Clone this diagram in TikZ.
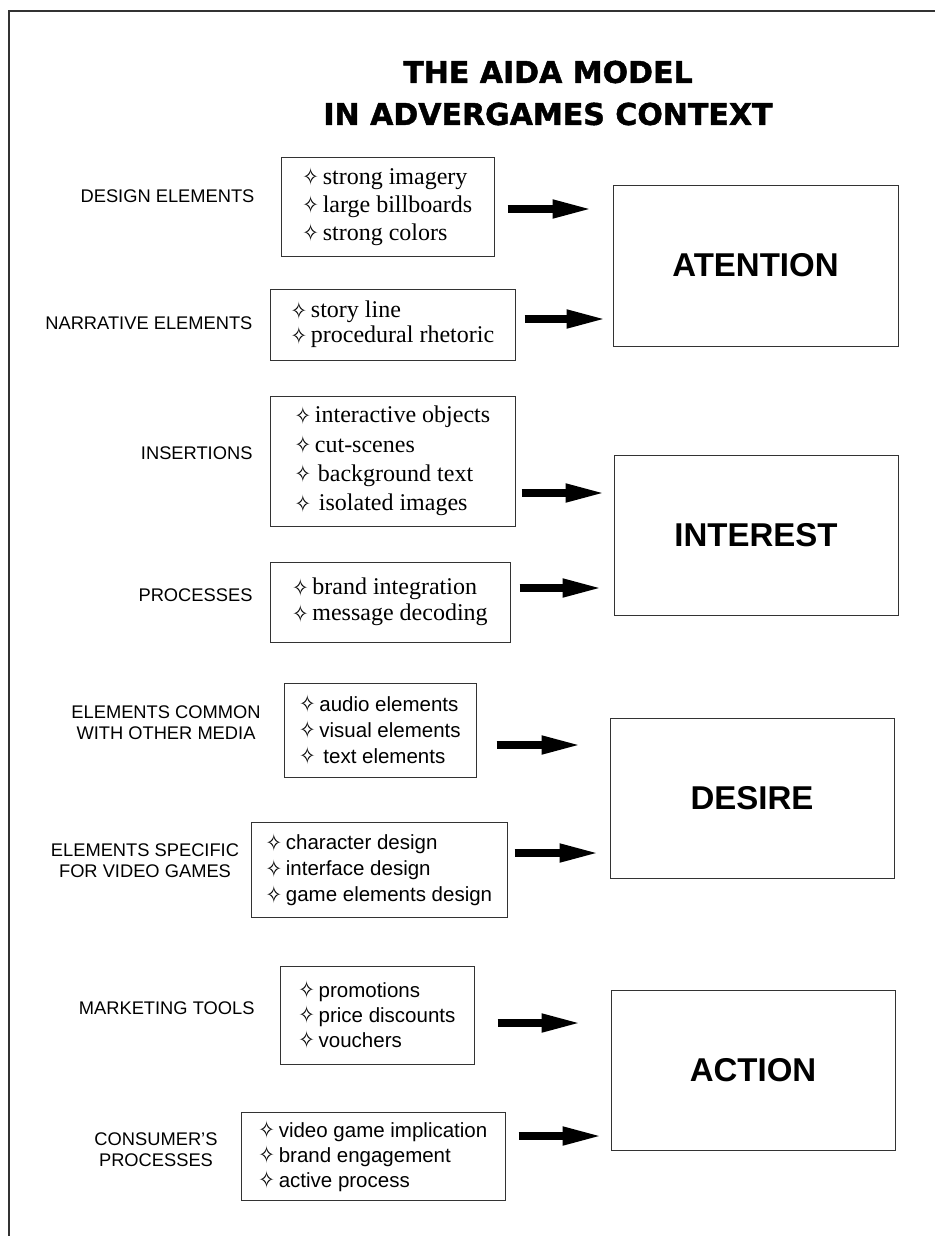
\documentclass[tikz,border=0pt]{standalone}
\usepackage{fontspec}
\setmainfont{Liberation Serif}
\setsansfont{Liberation Sans}
\newfontfamily\headfont{DejaVu Sans Bold}[FakeBold=1.5]
\newfontfamily\symfont{DejaVu Sans}
\usetikzlibrary{arrows.meta,positioning}
\newcommand{\sparkle}{\raisebox{-1.5pt}{\scalebox{0.8}[1]{\symfont\fontsize{24}{24}\selectfont ✧}}\hspace{4pt}}

\begin{document}
\begin{tikzpicture}[x=1pt,y=-1pt,
      itembox/.style={
         draw=black!80,
         line width=1pt,
         align=left,
         inner sep=0pt},
      serifitems/.style={font=\fontsize{24}{28}\selectfont},
      sansitems/.style={font=\sffamily\fontsize{20.5}{26}\selectfont},
      stagebox/.style={
         draw=black!80,
         line width=1pt,
         minimum width=284pt,
         minimum height=160pt,
         font=\sffamily\bfseries\fontsize{33}{33}\selectfont},
      sidelabel/.style={font=\sffamily\fontsize{18.3}{21}\selectfont, align=center},
      bigarrow/.style={line width=7.5pt, -{Triangle[length=40pt,width=17pt]}}
      ]
      \useasboundingbox (0,0) rectangle (935,1236);
      \draw[line width=2pt, black!80] (9,1236) -- (9,11) -- (935,11);

      \node[font=\headfont\fontsize{30}{42}\selectfont, align=center] (title) at (548,93) {THE AIDA MODEL\\IN ADVERGAMES CONTEXT};

      % stages
      \node[stagebox,minimum width=285pt,minimum height=161pt] (att) at (755.5,265.5) {ATENTION};
      \node[stagebox] (int) at (756,535) {INTEREST};
      \node[stagebox] (des) at (752,798) {DESIRE};
      \node[stagebox] (act) at (753,1070) {ACTION};

      % attention
      \node[itembox,serifitems,minimum width=213pt,minimum height=99pt] (design) at (387.5,206.5)
         {\sparkle strong imagery\\\sparkle large billboards\\\sparkle strong colors};
      \node[itembox,serifitems,minimum width=245pt,minimum height=71pt,font=\fontsize{24}{25}\selectfont] (narr) at (392.5,324.5)
         {\sparkle story line\\\sparkle procedural rhetoric};
      \node[sidelabel,anchor=east] (designlbl) at (258,196) {DESIGN ELEMENTS};
      \node[sidelabel,anchor=east] (narrlbl) at (256,323) {NARRATIVE ELEMENTS};

      % interest
      \node[itembox,serifitems,minimum width=245pt,minimum height=130pt,font=\fontsize{24}{29.3}\selectfont] (insert) at (392.5,461)
         {\sparkle interactive objects\\\sparkle cut-scenes\\\sparkle\hspace{3pt}background text\\\sparkle\hspace{4pt}isolated images};
      \node[itembox,serifitems,minimum width=240pt,minimum height=80pt,font=\fontsize{24}{26}\selectfont] (proc) at (390,602)
         {\sparkle brand integration\\\sparkle message decoding};
      \node[sidelabel,anchor=east] (insertlbl) at (256,453) {INSERTIONS};
      \node[sidelabel,anchor=east] (proclbl) at (256,595) {PROCESSES};

      % desire
      \node[itembox,sansitems,minimum width=192pt,minimum height=94pt] (common) at (380,730)
         {\sparkle audio elements\\\sparkle visual elements\\\sparkle\hspace{4pt}text elements};
      \node[itembox,sansitems,minimum width=256pt,minimum height=95pt] (specific) at (379,869.5)
         {\sparkle character design\\\sparkle interface design\\\sparkle game elements design};
      \node[sidelabel] (commonlbl) at (166,723) {ELEMENTS COMMON\\WITH OTHER MEDIA};
      \node[sidelabel] (specificlbl) at (145,861) {ELEMENTS SPECIFIC\\FOR VIDEO GAMES};

      % action
      \node[itembox,sansitems,minimum width=194pt,minimum height=98pt,font=\sffamily\fontsize{20.5}{25}\selectfont] (market) at (377,1015)
         {\sparkle promotions\\\sparkle price discounts\\\sparkle vouchers};
      \node[itembox,sansitems,minimum width=264pt,minimum height=88pt,font=\sffamily\fontsize{20.5}{25}\selectfont] (consumer) at (373,1156)
         {\sparkle video game implication\\\sparkle brand engagement\\\sparkle active process};
      \node[sidelabel,anchor=east] (marketlbl) at (258,1008) {MARKETING TOOLS};
      \node[sidelabel] (consumerlbl) at (156,1150) {CONSUMER'S\\PROCESSES};

    \foreach \i/\j/\y/\a/\b in {% from/to/height/gap at start/gap at end
      design/att/209/13/20,
      narr/att/319/9/6,
      insert/int/493/6/8,
      proc/int/588/9/11,
      common/des/745/20/28,
      specific/des/853/7/10,
      market/act/1023/23/29,
      consumer/act/1136/13/8}
       \draw[bigarrow, shorten <=\a pt, shorten >=\b pt] (\i.east |- 0,\y) -- (\j.west |- 0,\y);

\end{tikzpicture}
\end{document}
